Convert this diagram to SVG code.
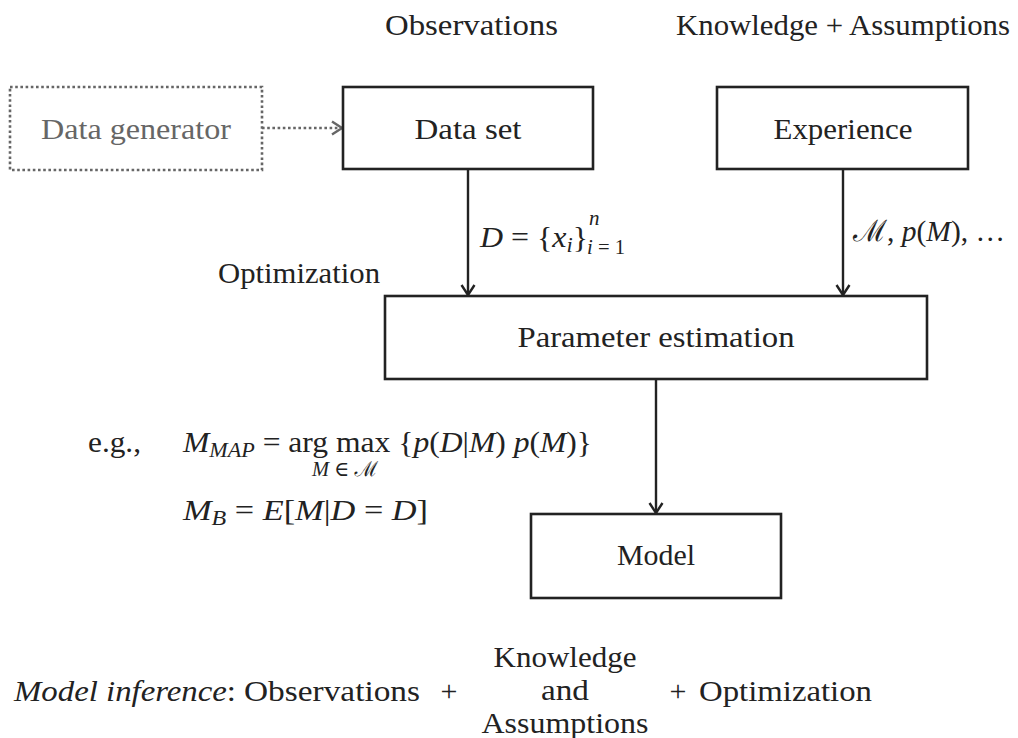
<svg xmlns="http://www.w3.org/2000/svg" width="1018" height="738" viewBox="0 0 1018 738">
<style>
text{font-family:"Liberation Serif","Times New Roman",Times,Tinos,"Noto Serif","DejaVu Serif",FreeSerif,serif;fill:#222;font-size:30px}
.c{text-anchor:middle}
.i{font-style:italic}
.s{font-size:21px}
.box{fill:#fff;stroke:#222;stroke-width:2.6}
.dot{fill:none;stroke:#666;stroke-width:2.6;stroke-dasharray:2.6 2.6}
.ln{stroke:#222;stroke-width:2.4;fill:none}
.cal{font-style:italic}
</style>
<defs>
<marker id="ar" markerUnits="userSpaceOnUse" markerWidth="16" markerHeight="16" viewBox="0 0 16 16" refX="13" refY="8" orient="auto">
<path d="M3,1.5 L13,8 L3,14.5" fill="none" stroke="#222" stroke-width="2.4"/>
</marker>
<marker id="arg" markerUnits="userSpaceOnUse" markerWidth="16" markerHeight="16" viewBox="0 0 16 16" refX="13" refY="8" orient="auto">
<path d="M3,1.5 L13,8 L3,14.5" fill="none" stroke="#666" stroke-width="2.4"/>
</marker>
</defs>

<g id="labels">
<text x="385" y="35" textLength="173" lengthAdjust="spacingAndGlyphs">Observations</text>
<text x="676" y="35" textLength="334" lengthAdjust="spacingAndGlyphs">Knowledge + Assumptions</text>
<text x="218" y="283" textLength="162" lengthAdjust="spacingAndGlyphs">Optimization</text>
</g>

<g id="connectors">
<line class="dot" x1="262" y1="128" x2="342" y2="128" marker-end="url(#arg)"/>
<line class="ln" x1="468" y1="170" x2="468" y2="295" marker-end="url(#ar)"/>
<line class="ln" x1="843" y1="170" x2="843" y2="295" marker-end="url(#ar)"/>
<line class="ln" x1="656" y1="379" x2="656" y2="513" marker-end="url(#ar)"/>
</g>

<g id="node-datagen">
<rect class="dot" x="10" y="87" width="252" height="83"/>
<text x="136" y="139" class="c" style="fill:#666" textLength="190" lengthAdjust="spacingAndGlyphs">Data generator</text>
</g>
<g id="node-dataset">
<rect class="box" x="343" y="87" width="250" height="82"/>
<text x="468" y="139" class="c" textLength="107" lengthAdjust="spacingAndGlyphs">Data set</text>
</g>
<g id="node-experience">
<rect class="box" x="717" y="87" width="251" height="82"/>
<text x="843" y="139" class="c" textLength="139" lengthAdjust="spacingAndGlyphs">Experience</text>
</g>
<g id="node-param">
<rect class="box" x="385" y="296" width="542" height="83"/>
<text x="656" y="347" class="c" textLength="277" lengthAdjust="spacingAndGlyphs">Parameter estimation</text>
</g>
<g id="node-model">
<rect class="box" x="531" y="514" width="250" height="84"/>
<text x="656" y="565" class="c" textLength="78" lengthAdjust="spacingAndGlyphs">Model</text>
</g>

<g id="edge-labels">
<text x="480" y="247" textLength="108" lengthAdjust="spacingAndGlyphs"><tspan class="cal">D</tspan> = {<tspan class="i">x</tspan><tspan class="i s" dy="5">i</tspan><tspan dy="-5">}</tspan></text>
<text x="589" y="225" class="i s">n</text>
<text x="587" y="254" class="s" textLength="38" lengthAdjust="spacingAndGlyphs"><tspan class="i">i</tspan> = 1</text>
<text x="853" y="241" textLength="152" lengthAdjust="spacingAndGlyphs"><tspan class="cal">ℳ</tspan>, <tspan class="i">p</tspan>(<tspan class="i">M</tspan>), …</text>
</g>

<g id="formulas">
<text x="88" y="452" textLength="53" lengthAdjust="spacingAndGlyphs">e.g.,</text>
<text x="183" y="452" textLength="409" lengthAdjust="spacingAndGlyphs"><tspan class="i">M</tspan><tspan class="i s" dy="5">MAP</tspan><tspan dy="-5"> = arg max {</tspan><tspan class="i">p</tspan>(<tspan class="cal">D</tspan>|<tspan class="i">M</tspan>) <tspan class="i">p</tspan>(<tspan class="i">M</tspan>)}</text>
<text x="345" y="476" class="s c" textLength="66" lengthAdjust="spacingAndGlyphs"><tspan class="i">M</tspan> ∈ <tspan class="cal">ℳ</tspan></text>
<text x="183" y="520" textLength="245" lengthAdjust="spacingAndGlyphs"><tspan class="i">M</tspan><tspan class="i s" dy="5">B</tspan><tspan dy="-5"> = </tspan><tspan class="i">E</tspan>[<tspan class="i">M</tspan>|<tspan class="i">D</tspan> = <tspan class="cal">D</tspan>]</text>
</g>

<g id="summary">
<text x="14" y="701" textLength="222" lengthAdjust="spacingAndGlyphs"><tspan class="i">Model inference</tspan>:</text>
<text x="244" y="701" textLength="176" lengthAdjust="spacingAndGlyphs">Observations</text>
<text x="449" y="701" class="c">+</text>
<text x="565" y="667" class="c" textLength="143" lengthAdjust="spacingAndGlyphs">Knowledge</text>
<text x="565" y="700" class="c" textLength="48" lengthAdjust="spacingAndGlyphs">and</text>
<text x="565" y="733" class="c" textLength="167" lengthAdjust="spacingAndGlyphs">Assumptions</text>
<text x="678" y="701" class="c">+</text>
<text x="699" y="701" textLength="173" lengthAdjust="spacingAndGlyphs">Optimization</text>
</g>
</svg>
